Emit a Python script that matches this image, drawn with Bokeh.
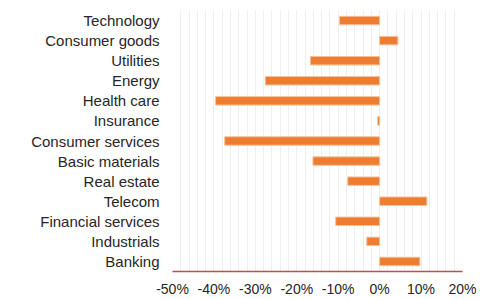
from bokeh.plotting import figure
from bokeh.models import FactorRange, SingleIntervalTicker, CustomJSTickFormatter, Range1d
from bokeh.embed import file_html
from bokeh.resources import INLINE

sectors = ["Technology", "Consumer goods", "Utilities", "Energy", "Health care",
           "Insurance", "Consumer services", "Basic materials", "Real estate",
           "Telecom", "Financial services", "Industrials", "Banking"]
returns_pct = [-9.7, 4.4, -16.7, -27.6, -39.6, -0.5, -37.4, -16.1, -7.7,
               11.4, -10.6, -3.1, 9.7]

factors = list(reversed(sectors))

p = figure(width=480, height=299, output_backend="svg", toolbar_location=None,
           y_range=FactorRange(factors=factors, range_padding=0),
           x_range=Range1d(-50, 20),
           min_border_left=172, min_border_right=18, min_border_top=10,
           min_border_bottom=28)

p.hbar(y=sectors, right=returns_pct, left=0, height=0.42,
       fill_color="#ED7D31", line_color="#F6C09A", line_width=1)

p.outline_line_color = None
p.background_fill_color = "white"
p.border_fill_color = "white"

p.xaxis.ticker = SingleIntervalTicker(interval=10, num_minor_ticks=5)
p.xaxis.formatter = CustomJSTickFormatter(code="return tick.toFixed(0) + '%';")
p.xaxis.axis_line_color = "#B9504B"
p.xaxis.axis_line_width = 1.6
p.xaxis.major_tick_line_color = None
p.xaxis.minor_tick_line_color = None
p.xaxis.major_label_standoff = 3
p.xaxis.major_label_text_font = "Liberation Sans"
p.xaxis.major_label_text_font_size = "14px"
p.xaxis.major_label_text_color = "#262626"

p.yaxis.axis_line_color = None
p.yaxis.major_tick_line_color = None
p.yaxis.minor_tick_line_color = None
p.yaxis.major_label_standoff = 7
p.yaxis.major_label_text_font = "Liberation Sans"
p.yaxis.major_label_text_font_size = "15px"
p.yaxis.major_label_text_color = "#262626"

p.xgrid.grid_line_color = "#EFEFEF"
p.xgrid.minor_grid_line_color = "#EFEFEF"
p.ygrid.grid_line_color = None

open("out.html", "w").write(file_html(p, INLINE))
